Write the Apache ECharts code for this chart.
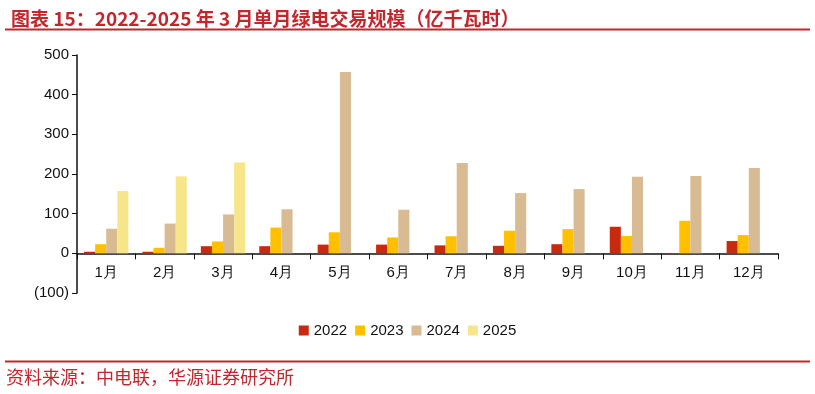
<!DOCTYPE html>
<html><head><meta charset="utf-8">
<script src="https://cdn.jsdelivr.net/npm/echarts@6/dist/echarts.min.js"></script>
<style>html,body{margin:0;padding:0;background:#fff}#c{width:815px;height:394px}</style>
</head><body><div id="c"></div>
<script>
const categories = ['1月','2月','3月','4月','5月','6月','7月','8月','9月','10月','11月','12月'];
const s2022 = [4, 4, 18, 18, 22, 22, 20, 19, 23, 67, -2, 31];
const s2023 = [23, 14, 30, 65, 53, 40, 43, 57, 61, 44, 82, 46];
const s2024 = [62, 75, 98, 111, 457, 110, 228, 152, 162, 193, 195, 215];
const s2025 = [157, 194, 229, null, null, null, null, null, null, null, null, null];
const seriesNames = ['2022','2023','2024','2025'];
const colors = ['#C8290F','#FFC000','#D8BB92','#F7E58A'];

const chart = echarts.init(document.getElementById('c'), null, {renderer:'canvas'});
const red = '#C0282E';
const allData = [s2022, s2023, s2024, s2025];
chart.setOption({
  animation:false,
  backgroundColor:'#fff',
  title:{
    text:'图表 15：2022-2025 年 3 月单月绿电交易规模（亿千瓦时）',
    left:6, top:4,
    textStyle:{color:red, fontSize:19, fontWeight:'bold', fontFamily:'"Noto Sans CJK SC", sans-serif'}
  },
  graphic:[
    {type:'line', shape:{x1:5,y1:29.5,x2:810,y2:29.5}, style:{stroke:red, lineWidth:2}},
    {type:'line', shape:{x1:5,y1:361.5,x2:810,y2:361.5}, style:{stroke:red, lineWidth:2}},
    {type:'text', left:6, top:368, style:{text:'资料来源：中电联，华源证券研究所', fill:red, font:'18px "Noto Sans CJK SC", sans-serif'}}
  ],
  legend:{
    data:seriesNames, left:'center', top:318, itemWidth:10, itemHeight:10, itemGap:8,
    textStyle:{fontSize:15, color:'#111', fontFamily:'"Liberation Sans", Arial, sans-serif'},
    icon:'rect'
  },
  grid:{left:77, right:37, top:55, bottom:101, containLabel:false},
  xAxis:{
    type:'category', data:categories,
    axisLine:{onZero:true, lineStyle:{color:'#111', width:1.5}},
    axisTick:{show:true, alignWithLabel:false, length:6, lineStyle:{color:'#111'}},
    axisLabel:{color:'#111', fontSize:15, margin:-28, fontFamily:'"Liberation Sans", Arial, sans-serif'}
  },
  yAxis:{
    type:'value', min:-100, max:500, interval:100,
    splitLine:{show:false},
    axisLine:{show:true, lineStyle:{color:'#111', width:1.5}},
    axisTick:{show:true, length:5, lineStyle:{color:'#111'}},
    axisLabel:{color:'#111', fontSize:15, margin:8, fontFamily:'"Liberation Sans", Arial, sans-serif',
      formatter:v => v < 0 ? '(' + (-v) + ')' : String(v)}
  },
  series: seriesNames.map((n,i)=>({
    name:n, type:'bar', data:allData[i], barGap:'0%', barCategoryGap:'24%',
    itemStyle:{color:colors[i]}
  }))
});
</script></body></html>
